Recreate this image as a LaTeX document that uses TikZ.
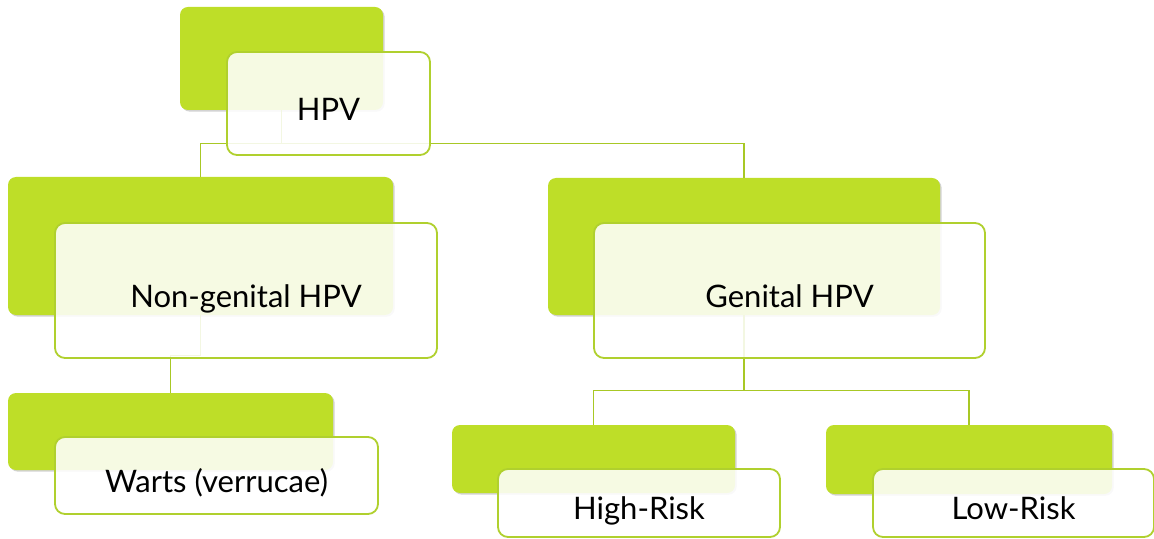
\documentclass[tikz,border=0pt]{standalone}
\usepackage{fontspec}
\setmainfont{Lato}
\usepackage{xcolor}
\usetikzlibrary{shadows}

\definecolor{lime}{HTML}{BEDE28}
\definecolor{limeline}{HTML}{A8C825}
\definecolor{limeedge}{HTML}{B0D02E}

\tikzset{
  backbox/.style={draw=none, fill=lime, rounded corners=4pt,
    drop shadow={shadow xshift=0.8pt, shadow yshift=-0.8pt, opacity=0.35}},
  frontbox/.style={draw=limeedge, line width=0.9pt, fill=white, fill opacity=0.87,
    rounded corners=5pt},
  boxtext/.style={yshift=-4.3pt, text opacity=1, fill opacity=1,
    text height=11.5pt, text depth=3.5pt,
    font=\fontsize{15.5pt}{18pt}\selectfont},
  link/.style={draw=limeline, line width=0.8pt}
}

\begin{document}
\begin{tikzpicture}[x=0.5pt, y=-0.5pt]
             \useasboundingbox (0,0) rectangle (1154,539);

             \node[backbox, minimum width=101.5pt, minimum height=51.5pt] (hpvg) at (281.5,58.5) {};
             \node[backbox, minimum width=192.5pt, minimum height=69pt] (ngg) at (200.5,246) {};
             \node[backbox, minimum width=196pt, minimum height=68.5pt] (gg) at (744,246.5) {};
             \node[backbox, minimum width=162.5pt, minimum height=38.5pt] (wg) at (170.5,431.5) {};
             \node[backbox, minimum width=141.5pt, minimum height=34pt] (hrg) at (593.5,459) {};
             \node[backbox, minimum width=143pt, minimum height=34.5pt] (lrg) at (969,459.5) {};

             \draw[link] (hpvg.south) -- ++(0,33) -| (ngg.north);
             \draw[link] (hpvg.south) -- ++(0,33) -| (gg.north);
             \draw[link] (ngg.south) -- ++(0,40) -| (wg.north);
             \draw[link] (gg.south) -- ++(0,75) -| (hrg.north);
             \draw[link] (gg.south) -- ++(0,75) -| (lrg.north);

             \node[frontbox, minimum width=101.5pt, minimum height=51.5pt,
               label={[boxtext]center:HPV}] (hpv) at (328.5,103.5) {};
             \node[frontbox, minimum width=191pt, minimum height=67.5pt,
               label={[boxtext]center:Non-genital HPV}] (nongen) at (246,290.5) {};
             \node[frontbox, minimum width=195.5pt, minimum height=67.5pt,
               label={[boxtext]center:Genital HPV}] (gen) at (789.5,290.5) {};
             \node[frontbox, minimum width=161.5pt, minimum height=38.5pt,
               label={[boxtext]center:Warts (verrucae)}] (warts) at (216.5,475.5) {};
             \node[frontbox, minimum width=141pt, minimum height=34pt,
               label={[boxtext]center:High-Risk}] (high) at (639,503) {};
             \node[frontbox, minimum width=140.5pt, minimum height=34pt,
               label={[boxtext]center:Low-Risk}] (low) at (1013.5,503) {};
\end{tikzpicture}
\end{document}
